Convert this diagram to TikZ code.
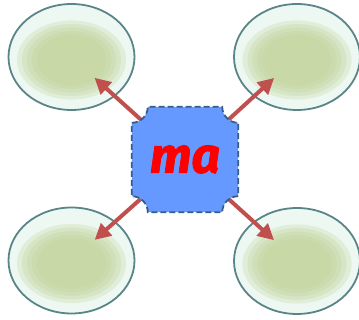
\documentclass[tikz,border=0pt]{standalone}
\usepackage{fontspec}
\usepackage{xcolor}
\usepackage{tikz}
\usetikzlibrary{shapes,arrows.meta,positioning,calc}
\newfontfamily\mafont[BoldItalicFeatures={FakeBold=1.6}]{Fira Sans}
\definecolor{podline}{HTML}{5A8588}
\definecolor{podrim}{HTML}{EEF8F3}
\definecolor{podgreen}{HTML}{C2D49A}
\definecolor{corefill}{HTML}{6699FF}
\definecolor{coreline}{HTML}{385D8A}
\definecolor{mared}{HTML}{FF0000}
\definecolor{arrowred}{HTML}{C0504D}
\pgfdeclarelayer{back}
\pgfdeclarelayer{mid}
\pgfsetlayers{back,mid,main}

\begin{document}
\begin{tikzpicture}[x=1pt,y=1pt,
    podnode/.style={ellipse, draw=podline, line width=1.8pt, fill=podrim,
        minimum width=126pt, minimum height=106pt, inner sep=0pt,
        path picture={\foreach \s in {0.88,0.80,0.72,0.64,0.56}
            \fill[podgreen, opacity=0.3] ([yshift=-3pt]path picture bounding box.center) ellipse ({\s*62pt} and {\s*45pt});}},
    corenode/.style={rectangle, minimum width=106pt, minimum height=105pt, inner sep=0pt,
        text=mared, font=\mafont\bfseries\itshape\fontsize{50}{50}\selectfont},
    plaque/.style={draw=coreline, fill=corefill, line width=1.8pt, dash pattern=on 6pt off 3pt},
    arrow/.style={-{Triangle[length=16pt,width=16pt]}, draw=arrowred, line width=4pt, shorten >=31pt}
]
    \useasboundingbox (0,0) rectangle (359,320);

    \node[corenode] (core) at (185,160.5) {\raisebox{-3pt}{ma}};

    \begin{pgfonlayer}{back}
    \node[podnode] (tl) at (71.5,263) {};
    \node[podnode] (tr) at (297,263) {};
    \node[podnode] (bl) at (71.5,59.5) {};
    \node[podnode] (br) at (297,59) {};

    \draw[arrow] (core.center) -- (tl.center); \draw[arrow] (core.center) -- (tr.center);
    \draw[arrow] (core.center) -- (bl.center); \draw[arrow] (core.center) -- (br.center);
    \end{pgfonlayer}

    \begin{pgfonlayer}{mid}
    \draw[plaque] ($(core.north west)+(0,-16)$) arc[start angle=270, end angle=360, radius=16]
        -- ($(core.north east)+(-16,0)$) arc[start angle=180, end angle=270, radius=16]
        -- ($(core.south east)+(0,16)$) arc[start angle=90, end angle=180, radius=16]
        -- ($(core.south west)+(16,0)$) arc[start angle=0, end angle=90, radius=16] -- cycle;
    \end{pgfonlayer}
\end{tikzpicture}
\end{document}
